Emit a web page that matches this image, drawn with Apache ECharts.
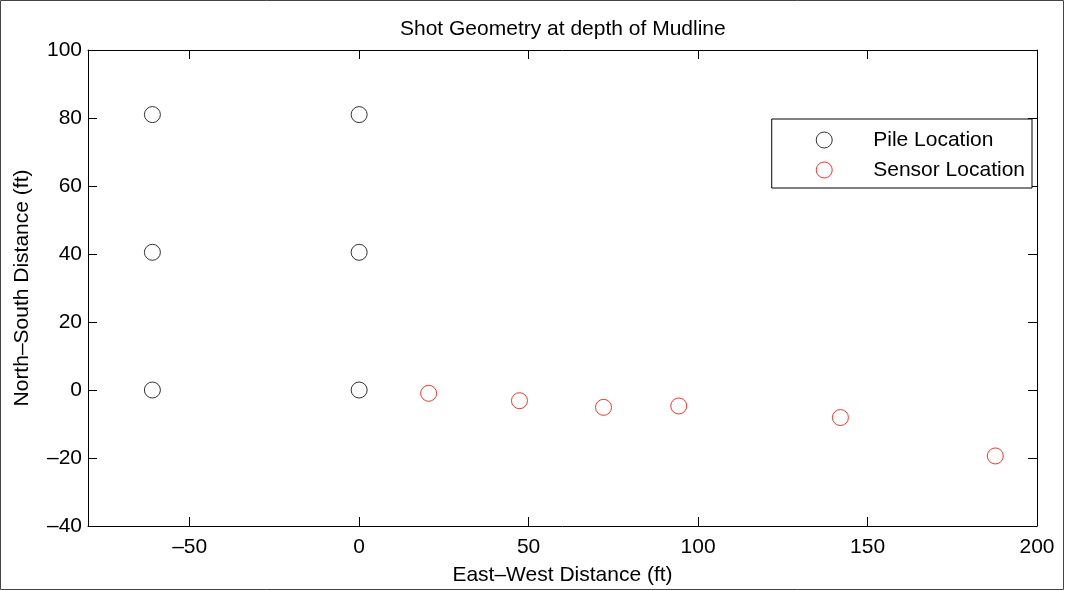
<!DOCTYPE html>
<html><head><meta charset="utf-8">
<script src="https://cdn.jsdelivr.net/npm/echarts@6/dist/echarts.min.js"></script>
<style>html,body{margin:0;padding:0;background:#fff}#c{width:1065px;height:591px}</style>
</head><body><div id="c"></div>
<script>
const titleText = 'Shot Geometry at depth of Mudline';
const xName = 'East–West Distance (ft)';
const yName = 'North–South Distance (ft)';
const xTicks = [-50, 0, 50, 100, 150, 200];
const yTicks = [-40, -20, 0, 20, 40, 60, 80, 100];
const pileX = [-61, 0, -61, 0, -61, 0];
const pileY = [81, 81, 40.5, 40.5, 0, 0];
const sensorX = [20.5, 47.3, 72.1, 94.3, 142.0, 187.7];
const sensorY = [-0.97, -3.15, -5.1, -4.7, -8.1, -19.4];

const FONT = '"Liberation Sans", Arial, Helvetica, sans-serif';
const FS = 21;
const fmt = v => String(v).replace('-', '–');
const zip = (a, b) => a.map((v, i) => [v, b[i]]);

const axLine = {show: true, onZero: false, lineStyle: {color: '#000', width: 1}};
const tick = vals => ({show: true, inside: true, length: 9, customValues: vals, lineStyle: {color: '#000', width: 1}});

const chart = echarts.init(document.getElementById('c'), null, {renderer: 'canvas'});
chart.setOption({
  animation: false,
  backgroundColor: '#fff',
  title: {text: titleText, left: 395, top: 14,
    textStyle: {fontFamily: FONT, fontSize: FS, fontWeight: 'normal', color: '#000'}},
  grid: {left: 88, right: 28, top: 50, bottom: 65},
  legend: {
    right: 33, top: 119, orient: 'vertical',
    backgroundColor: '#fff', borderColor: '#000', borderWidth: 1, borderRadius: 0,
    padding: [9, 7, 6, 44], itemWidth: 88, itemHeight: 16, itemGap: 6,
    itemStyle: {borderWidth: 1},
    textStyle: {fontFamily: FONT, fontSize: FS, color: '#000', lineHeight: 24},
    data: ['Pile Location', 'Sensor Location']
  },
  xAxis: [
    {type: 'value', min: -80, max: 200, position: 'bottom',
     name: xName, nameLocation: 'middle', nameGap: 39,
     nameTextStyle: {fontFamily: FONT, fontSize: FS, color: '#000'},
     axisLine: axLine, axisTick: tick(xTicks), splitLine: {show: false},
     axisLabel: {customValues: xTicks, formatter: fmt, margin: 11, fontFamily: FONT, fontSize: FS, color: '#000'}},
    {type: 'value', min: -80, max: 200, position: 'top',
     axisLine: axLine, axisTick: tick(xTicks), splitLine: {show: false}, axisLabel: {show: false}}
  ],
  yAxis: [
    {type: 'value', min: -40, max: 100, position: 'left',
     name: yName, nameLocation: 'middle', nameGap: 55,
     nameTextStyle: {fontFamily: FONT, fontSize: FS, color: '#000'},
     axisLine: axLine, axisTick: tick(yTicks), splitLine: {show: false},
     axisLabel: {customValues: yTicks, formatter: fmt, margin: 6, fontFamily: FONT, fontSize: FS, color: '#000'}},
    {type: 'value', min: -40, max: 100, position: 'right',
     axisLine: axLine, axisTick: tick(yTicks), splitLine: {show: false}, axisLabel: {show: false}}
  ],
  graphic: [{type: 'rect', shape: {x: 0.5, y: 0.5, width: 1063, height: 589},
    style: {fill: 'none', stroke: '#444', lineWidth: 1}, silent: true, z: -1}],
  series: [
    {name: 'Pile Location', type: 'scatter', data: zip(pileX, pileY),
     symbol: 'circle', symbolSize: 16,
     itemStyle: {color: 'rgba(0,0,0,0)', borderColor: '#000', borderWidth: 1}},
    {name: 'Sensor Location', type: 'scatter', data: zip(sensorX, sensorY),
     symbol: 'circle', symbolSize: 16,
     itemStyle: {color: 'rgba(0,0,0,0)', borderColor: '#ff0000', borderWidth: 1}}
  ]
});
</script></body></html>
